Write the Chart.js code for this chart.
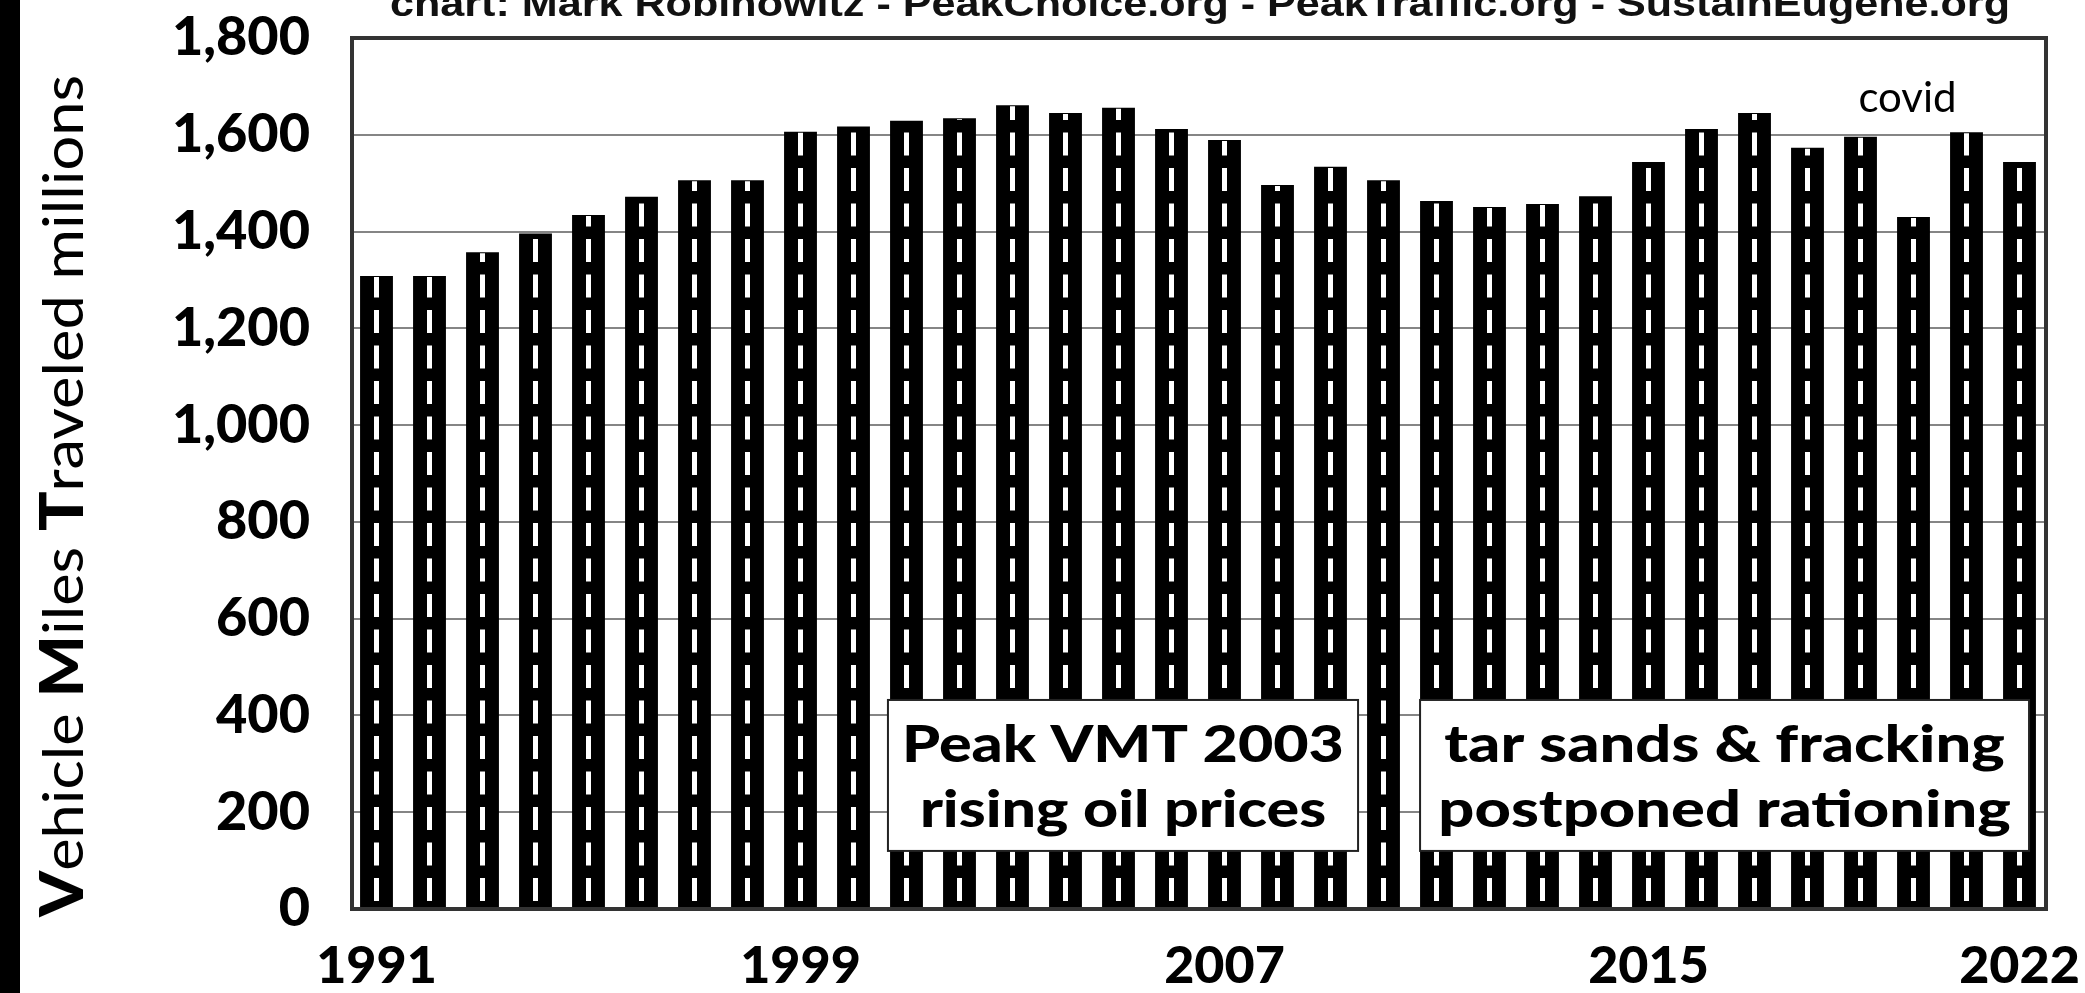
<!DOCTYPE html>
<html><head><meta charset="utf-8">
<script src="https://cdn.jsdelivr.net/npm/chart.js@4.4.1/dist/chart.umd.min.js"></script>
<style>html,body{margin:0;padding:0;background:#fff;overflow:hidden}#wrap{width:2085px;height:993px}</style>
</head><body><div id="wrap"><canvas id="c" width="2085" height="993"></canvas></div>
<script>
const years = ['1991','1992','1993','1994','1995','1996','1997','1998','1999','2000','2001','2002','2003','2004','2005','2006','2007','2008','2009','2010','2011','2012','2013','2014','2015','2016','2017','2018','2019','2020','2021','2022'];
const vmt = [1308,1308,1357,1396,1434,1472,1506,1506,1606,1617,1629,1634,1661,1645,1656,1612,1589,1496,1534,1506,1463,1451,1457,1473,1544,1612,1645,1573,1596,1430,1605,1544];
const shownYears = ['1991','1999','2007','2015','2022'];
const yMin = 0, yMax = 1800, yStep = 100, yLabelStep = 200;
const sourceText = 'chart: Mark Robinowitz - PeakChoice.org - PeakTraffic.org - SustainEugene.org';
const axisTitleParts = [['V',true],['ehicle ',false],['M',true],['iles ',false],['T',true],['raveled millions',false]];
const note1Lines = ['Peak VMT 2003','rising oil prices'];
const note2Lines = ['tar sands & fracking','postponed rationing'];
const covidText = 'covid';
const covidYear = '2020';

const BOLD = '"Lato", "DejaVu Sans", sans-serif';
const notes = [
  {lines: note1Lines, from: 9.65, to: 18.52, yLow: 120, yHigh: 432},
  {lines: note2Lines, from: 19.69, to: 31.18, yLow: 120, yHigh: 432}
];

const decor = {
  id: 'decor',
  beforeDraw(chart) {
    const c = chart.ctx;
    c.save();
    c.fillStyle = '#fff';
    c.fillRect(0, 0, chart.width, chart.height);
    c.fillStyle = '#000';
    c.fillRect(0, 0, 20, chart.height);
    c.restore();
  },
  afterDatasetsDraw(chart) {
    const c = chart.ctx;
    const meta = chart.getDatasetMeta(0);
    const xs = chart.scales.x, ys = chart.scales.y;
    const ca = chart.chartArea;
    c.save();
    c.strokeStyle = '#fff';
    c.lineWidth = 5;
    c.lineCap = 'butt';
    c.setLineDash([23, 12.5]);
    c.lineDashOffset = 28.5;
    meta.data.forEach(bar => {
      c.beginPath();
      c.moveTo(bar.x, bar.base);
      c.lineTo(bar.x, bar.y + 1);
      c.stroke();
    });
    c.restore();
    notes.forEach(n => {
      const l = xs.getPixelForValue(n.from), r = xs.getPixelForValue(n.to);
      const t = ys.getPixelForValue(n.yHigh), b = ys.getPixelForValue(n.yLow);
      c.save();
      c.fillStyle = '#fff';
      c.fillRect(l, t, r - l, b - t);
      c.strokeStyle = '#222';
      c.lineWidth = 2;
      c.strokeRect(l, t, r - l, b - t);
      c.fillStyle = '#000';
      c.textAlign = 'center';
      c.textBaseline = 'alphabetic';
      c.font = '900 51px ' + BOLD;
      const w = Math.max(...n.lines.map(s => c.measureText(s).width));
      const sx = (r - l) * 0.94 / w;
      c.translate((l + r) / 2, 0);
      c.scale(sx, 1);
      c.fillText(n.lines[0], 0, t + 62);
      c.fillText(n.lines[1], 0, t + 127);
      c.restore();
    });
    const ci = years.indexOf(covidYear);
    c.save();
    c.fillStyle = '#000';
    c.font = '400 42px "Lato", sans-serif';
    c.textAlign = 'center';
    c.textBaseline = 'alphabetic';
    c.fillText(covidText, xs.getPixelForValue(ci) - 6, ys.getPixelForValue(1648));
    c.restore();
    c.save();
    c.strokeStyle = '#333';
    c.lineWidth = 4;
    c.strokeRect(ca.left + 2, ca.top, ca.right - ca.left - 2, ca.bottom - ca.top);
    c.restore();
  },
  afterDraw(chart) {
    const c = chart.ctx;
    c.save();
    c.fillStyle = '#111';
    c.textAlign = 'center';
    c.textBaseline = 'alphabetic';
    c.font = 'bold 36px "Liberation Sans", Arial, sans-serif';
    const w = c.measureText(sourceText).width;
    c.translate(1200, 16);
    c.scale(1620 / w, 1.05);
    c.fillText(sourceText, 0, 0);
    c.restore();
    c.save();
    const regFont = '400 56px "Lato", sans-serif';
    const boldFont = '900 60px ' + BOLD;
    let total = 0;
    const widths = axisTitleParts.map(p => { c.font = p[1] ? boldFont : regFont; const ww = c.measureText(p[0]).width; total += ww; return ww; });
    const k = 842 / total;
    c.translate(83, 496);
    c.rotate(-Math.PI / 2);
    c.scale(k, 1);
    c.fillStyle = '#000';
    c.textBaseline = 'alphabetic';
    c.textAlign = 'left';
    let x = -total / 2;
    axisTitleParts.forEach((p, i) => { c.font = p[1] ? boldFont : regFont; c.fillText(p[0], x, 0); x += widths[i]; });
    c.restore();
  }
};

new Chart(document.getElementById('c'), {
  type: 'bar',
  data: {
    labels: years,
    datasets: [{ data: vmt, backgroundColor: '#000', borderWidth: 0, barPercentage: 0.62, categoryPercentage: 1 }]
  },
  options: {
    responsive: false,
    animation: false,
    devicePixelRatio: 1,
    layout: { padding: { top: 38, right: 39, left: 0, bottom: 0 } },
    plugins: { legend: { display: false }, tooltip: { enabled: false }, title: { display: false } },
    scales: {
      x: {
        grid: { display: false, drawTicks: false, tickLength: 0 },
        border: { display: false },
        ticks: {
          autoSkip: false, maxRotation: 0, minRotation: 0, padding: 26,
          color: '#000', font: { family: BOLD, weight: '900', size: 52 },
          callback: (v, i) => shownYears.includes(years[i]) ? years[i] : ''
        },
        afterFit: s => { s.height = 84; s.paddingLeft = 0; s.paddingRight = 0; s.paddingTop = 0; s.paddingBottom = 0; }
      },
      y: {
        min: yMin, max: yMax,
        grid: {
          drawTicks: false, tickLength: 0, lineWidth: 2,
          color: ctx => (ctx.tick && ctx.tick.value % yLabelStep === 0) ? '#858585' : '#d4d4d4'
        },
        border: { display: false },
        ticks: {
          stepSize: yStep, padding: 40, color: '#000',
          font: { family: BOLD, weight: '900', size: 54 },
          callback: v => v % yLabelStep === 0 ? v.toLocaleString('en-US') : ''
        },
        afterFit: s => { s.width = 350; s.paddingTop = 0; s.paddingBottom = 0; s.paddingLeft = 0; s.paddingRight = 0; }
      }
    }
  },
  plugins: [decor]
});
</script>
</body></html>
